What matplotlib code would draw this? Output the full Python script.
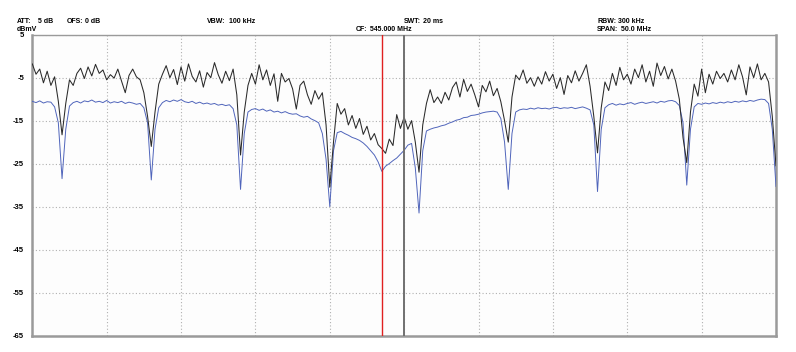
import numpy as np
import matplotlib
matplotlib.use("Agg")
import matplotlib.pyplot as plt

# spectrum analyser screen: 520..570 MHz, 0.25 MHz per point
f_start = 520.0
f_step = 0.25

# max hold trace (black), dBmV
trace_max = [
    -1.8, -4.2, -3.0, -6.2, -3.5, -6.8, -4.8, -10.5, -18.3, -11.0,
    -5.5, -6.8, -4.0, -2.8, -5.2, -2.5, -4.6, -1.9, -4.0, -3.2,
    -5.5, -4.3, -5.1, -3.0, -5.8, -8.5, -4.5, -3.0, -4.8, -5.5,
    -8.5, -14.0, -21.0, -13.0, -6.5, -4.2, -2.2, -5.0, -3.1, -6.6,
    -2.5, -5.8, -1.8, -4.7, -6.0, -3.4, -7.2, -3.8, -5.0, -1.5,
    -4.3, -6.3, -3.5, -5.7, -3.0, -9.0, -23.0, -13.0, -6.8, -4.0,
    -6.5, -2.0, -5.5, -3.2, -6.8, -4.1, -10.5, -4.0, -6.0, -5.2,
    -7.6, -12.3, -6.8, -5.8, -9.0, -11.2, -8.0, -10.0, -8.5, -16.0,
    -30.5, -20.0, -11.0, -13.5, -12.2, -16.0, -13.8, -16.8, -14.5, -18.2,
    -16.3, -19.5, -18.0, -20.6, -21.5, -22.6, -19.3, -20.8, -13.6, -16.8,
    -14.2, -17.0, -15.0, -20.0, -27.0, -16.0, -11.0, -7.8, -10.8, -9.5,
    -11.0, -8.4, -10.2, -7.3, -6.0, -9.5, -5.4, -8.2, -6.5, -9.0,
    -11.8, -6.8, -8.3, -5.8, -9.2, -7.5, -10.6, -15.0, -20.0, -9.5,
    -4.4, -5.5, -3.2, -6.3, -5.0, -7.0, -4.8, -6.5, -3.6, -5.8,
    -4.2, -7.5, -5.0, -8.9, -4.5, -6.2, -3.4, -5.8, -4.0, -2.0,
    -7.0, -14.0, -22.5, -12.0, -6.0, -8.0, -4.0, -6.8, -2.6, -5.5,
    -4.2, -6.5, -3.0, -5.0, -2.0, -6.0, -3.5, -7.0, -1.6, -4.5,
    -2.4, -5.3, -3.0, -5.8, -10.0, -19.0, -24.8, -13.0, -6.5, -9.3,
    -3.0, -8.5, -4.2, -6.5, -3.5, -5.2, -4.0, -6.0, -3.2, -5.5,
    -2.0, -4.8, -9.0, -2.5, -5.0, -1.8, -5.5, -4.0, -6.0, -14.0,
    -25.5,
]

# average trace (blue), dBmV
trace_avg = [
    -10.5, -10.8, -10.4, -10.9, -10.6, -10.7, -11.8, -15.5, -28.5, -17.0,
    -11.6, -10.8, -10.5, -10.9, -10.4, -10.6, -10.2, -10.7, -10.5, -10.8,
    -10.3, -10.9, -10.6, -10.8, -10.5, -11.0, -10.7, -10.9, -11.2, -11.0,
    -12.0, -15.5, -28.8, -17.0, -12.0, -10.8, -10.3, -10.6, -10.2, -10.5,
    -10.1, -10.6, -10.8, -10.5, -11.0, -10.7, -11.1, -10.9, -11.2, -11.0,
    -11.4, -11.2, -11.5, -11.3, -12.2, -16.0, -31.0, -18.0, -13.0, -12.4,
    -12.2, -12.6, -12.3, -12.8, -12.5, -13.0, -12.8, -13.2, -12.9, -13.3,
    -13.5, -13.4, -13.9, -14.2, -14.0, -14.6, -15.0, -15.5, -18.0, -24.0,
    -35.0, -22.0, -17.8, -17.5, -18.0, -18.4, -18.9, -19.2, -19.6, -20.2,
    -21.0, -22.0, -23.0, -24.6, -26.8, -25.6, -25.0, -24.3, -23.7, -22.8,
    -21.9, -20.7, -20.3, -26.0, -36.5, -22.0, -17.4, -17.0, -16.7, -16.5,
    -16.2, -16.0, -15.6, -15.3, -14.9, -14.7, -14.3, -14.2, -13.8, -13.7,
    -13.5, -13.2, -13.0, -12.9, -12.8, -13.0, -14.5, -20.0, -31.0, -18.0,
    -13.0, -12.5, -12.3, -12.4, -12.1, -12.3, -12.0, -12.2, -12.1, -12.3,
    -12.0, -11.9, -12.2, -12.0, -12.1, -11.9, -12.2, -12.0, -11.8, -12.1,
    -12.5, -16.0, -31.5, -17.0, -12.0, -11.3, -11.0, -11.4, -11.1, -11.3,
    -11.0, -10.8, -11.2, -10.9, -10.7, -11.0, -10.8, -10.6, -10.9, -10.5,
    -10.7, -10.4, -10.3, -10.6, -11.5, -15.5, -30.0, -17.0, -11.8, -11.0,
    -11.2, -10.9, -11.1, -10.8, -11.0, -10.7, -10.9, -10.6, -10.8, -10.5,
    -10.7, -10.4, -10.6, -10.3, -10.5, -10.2, -10.0, -10.1, -11.0, -17.0,
    -30.3,
]

marker_freq = 543.5
center_freq = 545.0
y_ticks = [5, -5, -15, -25, -35, -45, -55, -65]

freq = f_start + f_step * np.arange(len(trace_max))

W, H = 796, 352
fig = plt.figure(figsize=(W / 100, H / 100), dpi=100)
ax = fig.add_axes([32.3 / W, 1 - 335.5 / H, (776 - 32.3) / W, (335.5 - 34.7) / H])
ax.set_facecolor("#fdfdfd")

ax.plot(freq, trace_avg, color="#5065bb", lw=0.7, zorder=3)
ax.plot(freq, trace_max, color="#2a2a2a", lw=0.75, zorder=4)
ax.axvline(marker_freq, color="#e02020", lw=1.0, zorder=5)
ax.axvline(center_freq, color="#707070", lw=1.4, zorder=5)

ax.set_xlim(520, 570)
ax.set_ylim(-65, 5)
ax.set_xticks(np.arange(520, 571, 5))
ax.set_xticklabels([])
ax.set_yticks(y_ticks)
ax.set_yticklabels([str(t) for t in y_ticks])
ax.tick_params(length=0, pad=6)
for lab in ax.get_yticklabels():
    lab.set_fontsize(5.5)
    lab.set_fontweight("bold")
    lab.set_family("Liberation Sans")
ax.grid(True, color="#b0b0b0", ls=(0, (1, 2)), lw=0.8)

for side in ["left", "bottom", "right"]:
    ax.spines[side].set_color("#9a9a9a")
    ax.spines[side].set_linewidth(1.8)
ax.spines["top"].set_color("#9a9a9a")
ax.spines["top"].set_linewidth(1.0)


def hdr(x, y, s):
    fig.text(x / W, 1 - y / H, s, fontsize=5, fontweight="bold",
             family="Liberation Sans", va="baseline")


hdr(17, 23, "ATT:")
hdr(38, 23, "5 dB")
hdr(66.5, 23, "OFS:")
hdr(85, 23, "0 dB")
hdr(207, 23, "VBW:")
hdr(229, 23, "100 kHz")
hdr(404, 23, "SWT:")
hdr(423, 23, "20 ms")
hdr(597, 23, "RBW:")
hdr(618, 23, "300 kHz")
hdr(17, 31, "dBmV")
hdr(356, 31, "CF:")
hdr(370, 31, "545.000 MHz")
hdr(597, 31, "SPAN:")
hdr(621, 31, "50.0 MHz")

fig.savefig("out.png", dpi=100, facecolor="white")
